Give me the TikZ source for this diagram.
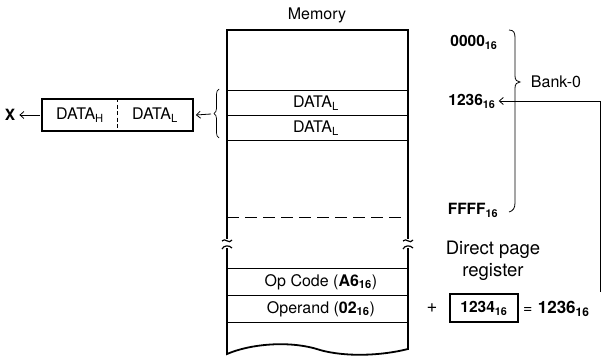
\documentclass[tikz,border=0pt]{standalone}
\usepackage{fontspec}
\setmainfont{TeX Gyre Heros}
\usetikzlibrary{arrows.meta,positioning,decorations.pathreplacing,calc}

\begin{document}
\begin{tikzpicture}[x=1pt,y=-1pt,
  lbl/.style={font=\fontsize{16}{18}\selectfont,inner sep=1pt},
  num/.style={font=\fontsize{15.5}{18}\selectfont\bfseries,inner sep=1pt},
  big/.style={font=\fontsize{18.5}{22}\selectfont,inner sep=1pt,align=center},
  wall/.style={line width=1.8pt},
  cell/.style={line width=0.8pt},
  regbox/.style={draw,line width=1.6pt,inner sep=0pt},
  ptr/.style={-{Straight Barb[length=4pt,width=7pt]},line width=0.8pt}]
\useasboundingbox (0,0) rectangle (604,356);

% ---- Memory column ----
\node[lbl] (mem) at (317,15) {Memory};
\draw[wall] (227,239) -- (227,30) -- (408,30) -- (408,239);
\draw[wall] (227,248) -- (227,354)
  .. controls (250,344) and (290,340) .. (320,350)
  .. controls (345,357) and (380,356) .. (408,349) -- (408,248);
% break marks
\draw[line width=1.2pt] (222,241) .. controls (225,237) and (229,245) .. (232,240);
\draw[line width=1.2pt] (222,249) .. controls (224,245) and (229,245) .. (232,248);
\draw[line width=1.2pt] (403,241) .. controls (406,237) and (410,245) .. (413,240);
\draw[line width=1.2pt] (403,249) .. controls (405,245) and (410,245) .. (413,248);
% cells
\draw[cell] (227,90) -- (408,90);
\draw[cell] (227,115) -- (408,115);
\draw[cell] (227,140) -- (408,140);
\draw[cell,dash pattern=on 12pt off 6pt] (227,217) -- (408,217);
\draw[cell] (227,268) -- (408,268);
\draw[cell] (227,295) -- (408,295);
\draw[cell] (227,322) -- (408,322);
\node[lbl] (dl1) at (316,103) {DATA\textsubscript{L}};
\node[lbl] (dl2) at (316,128) {DATA\textsubscript{L}};
\node[lbl] (opc) at (321,282) {Op Code (\textbf{A6\textsubscript{16}})};
\node[lbl] (opr) at (321,309) {Operand (\textbf{02\textsubscript{16}})};

% ---- Register on the left ----
\node[regbox,minimum width=151pt,minimum height=32pt] (reg) at (117.5,115) {};
\draw[cell,dash pattern=on 4pt off 2.5pt] (reg.north) -- (reg.south);
\node[lbl] (dh) at (80,115) {DATA\textsubscript{H}};
\node[lbl] (dlr) at (155,115) {DATA\textsubscript{L}};
\node[num] (x) at (10,115) {X};
\draw[ptr] ([xshift=-1pt]reg.west) -- ([xshift=3pt]x.east);
\draw[decorate,decoration={brace,amplitude=5pt},line width=0.7pt] (219,138) -- (219,89);
\coordinate (brl) at (211,114);
\draw[ptr] (brl) -- ([xshift=2pt]reg.east);

% ---- Addresses and bank ----
\node[num] (a0) at (474,42) {0000\textsubscript{16}};
\node[num] (a1) at (472,101) {1236\textsubscript{16}};
\node[num] (af) at (473,210) {FFFF\textsubscript{16}};
\draw[line width=0.8pt] (509,30) .. controls (514,30) and (515,33) .. (515,38)
  -- (515,76) .. controls (515,80) and (517,82) .. (520,82)
  .. controls (517,82) and (515,84) .. (515,88)
  -- (515,203) .. controls (515,208) and (513,211) .. (509,212);
\node[lbl] (bank) at (556,82) {Bank-0};

% ---- Direct page addition ----
\node[big] (dpr) at (493,261) {Direct page\\register};
\node[big] (plus) at (432,308) {+};
\node[regbox,line width=1.2pt,minimum width=68pt,minimum height=28pt] (dp) at (484,308) {};
\node[num] (dpv) at (dp) {1234\textsubscript{16}};
\node[lbl,anchor=west] (res) at (522,309)
  {=\,\,\textbf{\fontsize{17}{19}\selectfont 1236\textsubscript{16}}};
\coordinate (up) at (600,292);
\draw[ptr] (up) |- ([xshift=2pt]a1.east);
\end{tikzpicture}
\end{document}
